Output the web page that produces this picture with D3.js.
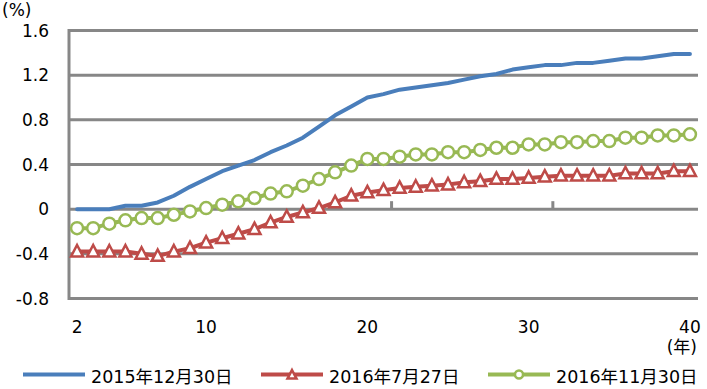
<!DOCTYPE html>
<html>
<head>
<meta charset="utf-8">
<script src="https://cdn.jsdelivr.net/npm/d3@7"></script>
<style>
  html, body { margin: 0; padding: 0; background: #fff; }
  svg { display: block; }
  text { font-family: "DejaVu Sans", "Noto Sans CJK JP", sans-serif; fill: #000; }
</style>
</head>
<body>
<svg id="chart" width="707" height="389"></svg>
<script>
// ---- data ----
const years = d3.range(2, 41);
const series2015 = [0.00, 0.00, 0.00, 0.03, 0.03, 0.06, 0.12, 0.20, 0.27, 0.34,
  0.39, 0.44, 0.51, 0.57, 0.64, 0.74, 0.84, 0.92, 1.00, 1.03,
  1.07, 1.09, 1.11, 1.13, 1.16, 1.19, 1.21, 1.25, 1.27, 1.29,
  1.29, 1.31, 1.31, 1.33, 1.35, 1.35, 1.37, 1.39, 1.39];
const series201607 = [-0.38, -0.38, -0.38, -0.38, -0.40, -0.42, -0.38, -0.35, -0.30, -0.26,
  -0.22, -0.18, -0.12, -0.07, -0.03, 0.01, 0.06, 0.12, 0.15, 0.17,
  0.19, 0.20, 0.21, 0.22, 0.24, 0.25, 0.27, 0.27, 0.28, 0.29,
  0.30, 0.30, 0.30, 0.30, 0.32, 0.32, 0.32, 0.34, 0.34];
const series201611 = [-0.17, -0.17, -0.13, -0.10, -0.08, -0.08, -0.05, -0.02, 0.01, 0.04,
  0.07, 0.10, 0.14, 0.16, 0.21, 0.27, 0.33, 0.39, 0.45, 0.45,
  0.47, 0.49, 0.49, 0.51, 0.51, 0.53, 0.55, 0.55, 0.58, 0.58,
  0.60, 0.60, 0.61, 0.61, 0.64, 0.64, 0.66, 0.66, 0.67];
const seriesNames = ["2015年12月30日", "2016年7月27日", "2016年11月30日"];
const xTickLabels = [2, 10, 20, 30, 40];
const yTicks = [-0.8, -0.4, 0, 0.4, 0.8, 1.2, 1.6];
const yUnit = "(%)";
const xUnit = "(年)";

// ---- layout ----
const svg = d3.select("#chart");
const pL = 69, pR = 698, pT = 30.5, pB = 298.5;
const gridColor = "#878787";
const colors = ["#4A7EBB", "#BE4B48", "#98B954"];

const x = d3.scaleBand().domain(years).range([pL, pR]).paddingInner(0).paddingOuter(0);
const xc = d => x(d) + x.bandwidth() / 2;
const y = d3.scaleLinear().domain([-0.8, 1.6]).range([pB, pT]);

// gridlines
svg.append("g").selectAll("line").data(yTicks).join("line")
  .attr("x1", pL).attr("x2", pR)
  .attr("y1", d => y(d)).attr("y2", d => y(d))
  .attr("stroke", gridColor).attr("stroke-width", 3);

// left axis line
svg.append("line").attr("x1", pL).attr("x2", pL).attr("y1", pT - 1.5).attr("y2", pB + 1.5)
  .attr("stroke", gridColor).attr("stroke-width", 3);

// category tick marks on zero line (every 10 categories)
const tickIdx = [10, 20, 30];
svg.append("g").selectAll("line").data(tickIdx).join("line")
  .attr("x1", i => x(years[i])).attr("x2", i => x(years[i]))
  .attr("y1", y(0) - 8).attr("y2", y(0))
  .attr("stroke", gridColor).attr("stroke-width", 3);

// y labels
svg.append("g").selectAll("text").data(yTicks).join("text")
  .attr("x", 49).attr("y", d => y(d) + 6)
  .attr("text-anchor", "end").attr("font-size", 17)
  .text(d => d === 0 ? "0" : d.toFixed(1));

svg.append("text").attr("x", 2).attr("y", 16).attr("font-size", 17).text(yUnit);

// x labels
svg.append("g").selectAll("text").data(xTickLabels).join("text")
  .attr("x", d => xc(d)).attr("y", 333)
  .attr("text-anchor", "middle").attr("font-size", 17)
  .text(d => d);
svg.append("text").attr("x", 697).attr("y", 353).attr("text-anchor", "end").attr("font-size", 17).text(xUnit);

// markers
function triPath(s) { return `M0,${-s * 0.55}L${s / 2},${s * 0.4}L${-s / 2},${s * 0.4}Z`; }

const allSeries = [series2015, series201607, series201611];
const line = d3.line().x((d, i) => xc(years[i])).y(d => y(d));

allSeries.forEach((vals, si) => {
  svg.append("path").datum(vals)
    .attr("d", line).attr("fill", "none")
    .attr("stroke", colors[si]).attr("stroke-width", 4)
    .attr("stroke-linejoin", "round").attr("stroke-linecap", "round");
  if (si === 1) {
    svg.append("g").selectAll("path").data(vals).join("path")
      .attr("transform", (d, i) => `translate(${xc(years[i])},${y(d)})`)
      .attr("d", triPath(12)).attr("fill", "#fff")
      .attr("stroke", colors[si]).attr("stroke-width", 2.5);
  } else if (si === 2) {
    svg.append("g").selectAll("circle").data(vals).join("circle")
      .attr("cx", (d, i) => xc(years[i])).attr("cy", d => y(d)).attr("r", 6)
      .attr("fill", "#fff").attr("stroke", colors[si]).attr("stroke-width", 2.5);
  }
});

// legend
const legendX = [23, 261, 488];
const lg = svg.append("g");
seriesNames.forEach((name, si) => {
  const x0 = legendX[si];
  lg.append("line").attr("x1", x0).attr("x2", x0 + 62).attr("y1", 374.5).attr("y2", 374.5)
    .attr("stroke", colors[si]).attr("stroke-width", 4);
  if (si === 1) {
    lg.append("path").attr("transform", `translate(${x0 + 31},${375})`).attr("d", triPath(9))
      .attr("fill", "#fff").attr("stroke", colors[si]).attr("stroke-width", 2.5);
  } else if (si === 2) {
    lg.append("circle").attr("cx", x0 + 31).attr("cy", 374.5).attr("r", 4)
      .attr("fill", "#fff").attr("stroke", colors[si]).attr("stroke-width", 2.5);
  }
  lg.append("text").attr("x", x0 + 68).attr("y", 383).attr("font-size", 17.5).text(name);
});
</script>
</body>
</html>
